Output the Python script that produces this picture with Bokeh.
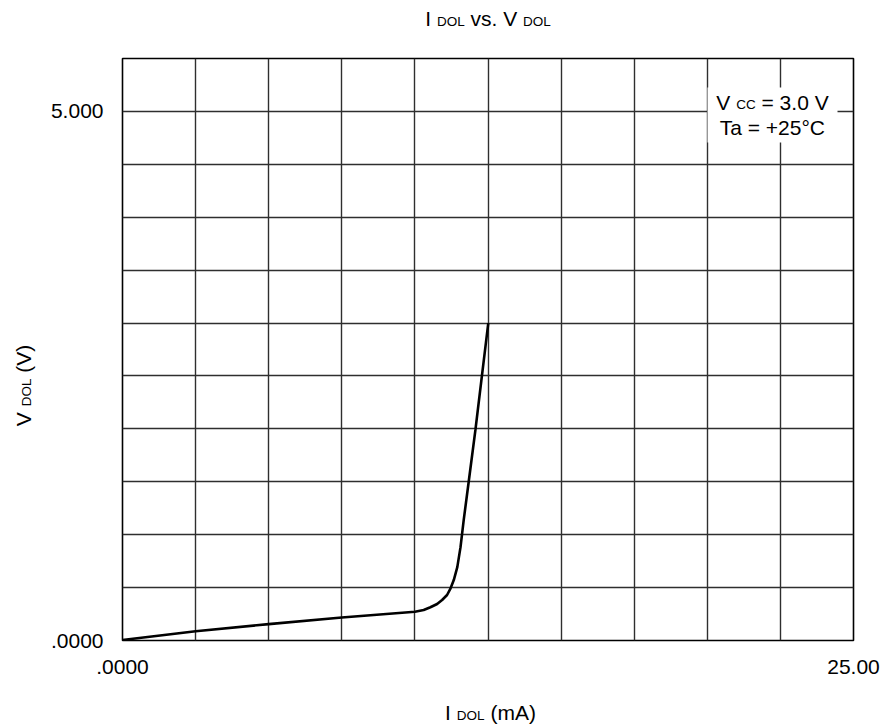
import math
from bokeh.plotting import figure
from bokeh.layouts import column, row
from bokeh.models import FixedTicker, Label, BoxAnnotation, Range1d, ColumnDataSource
from bokeh.core.properties import value
from bokeh.embed import file_html
from bokeh.resources import INLINE

# ---- data ----
i_dol = [0.0, 2.5, 5.0, 7.5, 10.0, 10.3, 10.53, 10.76, 10.93, 11.1, 11.22, 11.33,
         11.45, 11.56, 11.67, 11.84, 12.07, 12.30, 12.51]
v_dol = [0.005, 0.088, 0.155, 0.218, 0.272, 0.288, 0.314, 0.345, 0.383, 0.43, 0.493,
         0.571, 0.693, 0.882, 1.14, 1.50, 1.99, 2.52, 3.0]

x_range = (0.0, 25.0)
y_range = (0.0, 5.5)
x_tick_labels = {0: ".0000", 25: "25.00"}
y_tick_labels = {0: ".0000", 5: "5.000"}
x_grid_step = 2.5
y_grid_step = 0.5

title_parts = [("I", "big"), (" ", "big"), ("DOL", "small"), (" vs. V", "big"), (" ", "big"), ("DOL", "small")]
xlabel_parts = [("I", "big"), (" ", "big"), ("DOL", "small"), (" (mA)", "big")]
ylabel_parts = [("V", "big"), (" ", "big"), ("DOL", "small"), (" (V)", "big")]
cond_line1 = [("V", "big"), (" ", "big"), ("CC", "small"), (" = 3.0 V", "big")]
cond_line2 = [("Ta = +25°C", "big")]

# ---- layout (canvas pixels) ----
W, H = 890, 726
FONT = "Liberation Sans"
SIZES = {"big": 21, "small": 13.5}
CAP = 0.358            # cap-centre height above baseline, in em
TOP_H = 50            # title strip
LEFT_W = 40           # y-title strip (full height)
BOT_H = 36            # x-title strip
MAIN_W = W - LEFT_W
MAIN_H = H - TOP_H - BOT_H
FL, FR, FT, FB = 122, 853, 58, 640   # plot frame in canvas pixels

ARIAL = {' ': 278, 'I': 278, 'V': 667, 'D': 722, 'O': 778, 'L': 556, 'v': 500, 's': 500,
         '.': 278, '(': 333, ')': 333, 'm': 833, 'A': 667, 'C': 722, '=': 584, '3': 556,
         '0': 556, 'T': 611, 'a': 556, '+': 584, '2': 556, '5': 556, '°': 400}


def tw(s, size):
    return sum(ARIAL.get(c, 556) for c in s) * size / 1000.0


def run_layout(parts, center, cap_center):
    """Pieces of a run centred on `center`: (start, width, centre across the run, text, size)."""
    big = SIZES["big"]
    base = cap_center + CAP * big
    total = sum(tw(t, SIZES[k]) for t, k in parts)
    pos = center - total / 2.0
    out = []
    for t, k in parts:
        s = SIZES[k]
        lead = len(t) - len(t.lstrip(' '))
        txt = t.strip(' ')
        if txt:
            start = pos + tw(' ' * lead, s)
            out.append((start, tw(txt, s), base - CAP * s, txt, f"{s}px"))
        pos += tw(t, s)
    return out


def text_strip(w, h, xr):
    f = figure(width=w, height=h, output_backend="svg", toolbar_location=None,
               x_range=Range1d(*xr), y_range=Range1d(h, 0),
               x_axis_location=None, y_axis_location=None, min_border=0)
    f.grid.visible = False
    f.outline_line_color = None
    f.background_fill_color = "white"
    f.border_fill_color = "white"
    return f


# ---- main chart ----
p = figure(width=MAIN_W, height=MAIN_H, output_backend="svg", toolbar_location=None,
           x_range=Range1d(*x_range), y_range=Range1d(*y_range),
           min_border_left=FL - LEFT_W, min_border_right=W - FR,
           min_border_top=FT - TOP_H, min_border_bottom=(TOP_H + MAIN_H) - FB)
p.background_fill_color = "white"
p.border_fill_color = "white"
p.outline_line_color = "black"
p.outline_line_width = 1.6

nx = int(round((x_range[1] - x_range[0]) / x_grid_step))
ny = int(round((y_range[1] - y_range[0]) / y_grid_step))
p.xgrid.ticker = FixedTicker(ticks=[x_range[0] + k * x_grid_step for k in range(1, nx)])
p.ygrid.ticker = FixedTicker(ticks=[y_range[0] + k * y_grid_step for k in range(1, ny)])
for g in (p.xgrid, p.ygrid):
    g.grid_line_color = "#2e2e2e"
    g.grid_line_width = 1.4

p.xaxis.ticker = FixedTicker(ticks=list(x_tick_labels.keys()))
p.yaxis.ticker = FixedTicker(ticks=list(y_tick_labels.keys()))
p.xaxis.major_label_overrides = x_tick_labels
p.yaxis.major_label_overrides = y_tick_labels
for ax in (p.xaxis, p.yaxis):
    ax.axis_line_color = None
    ax.major_tick_line_color = None
    ax.minor_tick_line_color = None
    ax.major_tick_out = 0
    ax.major_tick_in = 0
    ax.minor_tick_out = 0
    ax.major_label_text_font = FONT
    ax.major_label_text_font_size = f"{SIZES['big']}px"
    ax.major_label_text_color = "black"
p.xaxis.major_label_standoff = 19
p.yaxis.major_label_standoff = 19

p.line(i_dol, v_dol, line_color="black", line_width=2.6)


def dx(sx):
    return x_range[0] + (sx - FL) / (FR - FL) * (x_range[1] - x_range[0])


def dy(sy):
    return y_range[0] + (FB - sy) / (FB - FT) * (y_range[1] - y_range[0])


# condition box inside the plot
p.add_layout(BoxAnnotation(left=dx(707), right=dx(837), top=dy(87), bottom=dy(142),
                           fill_color="white", fill_alpha=1.0, line_color=None))
for parts, cx, cc in ((cond_line1, 772, 101.5), (cond_line2, 773, 126.5)):
    for start, wd, yc, t, s in run_layout(parts, cx, cc):
        p.add_layout(Label(x=dx(start), y=dy(yc), text=t, text_font=FONT, text_font_size=s,
                           text_color="black", text_align="left", text_baseline="middle"))


def strip_text(fig, pieces, vertical=False):
    if vertical:
        src = dict(x=[c for _, _, c, _, _ in pieces],
                   y=[st + wd / 2.0 for st, wd, _, _, _ in pieces],
                   text=[t for *_, t, _ in pieces], size=[s for *_, s in pieces])
        fig.text(x="x", y="y", text="text", text_font_size="size",
                 source=ColumnDataSource(src), angle=math.pi / 2,
                 text_font=value(FONT), text_color="black",
                 text_align="center", text_baseline="middle")
    else:
        src = dict(x=[st for st, *_ in pieces], y=[c for _, _, c, _, _ in pieces],
                   text=[t for *_, t, _ in pieces], size=[s for *_, s in pieces])
        fig.text(x="x", y="y", text="text", text_font_size="size",
                 source=ColumnDataSource(src), text_font=value(FONT), text_color="black",
                 text_align="left", text_baseline="middle")


# ---- title / x-title strips: their frames line up with the chart frame, so use canvas x ----
top = text_strip(MAIN_W, TOP_H, (FL, FR))
strip_text(top, run_layout(title_parts, (FL + FR) / 2.0, 18))

bot = text_strip(MAIN_W, BOT_H, (FL, FR))
strip_text(bot, run_layout(xlabel_parts, 490, 712 - (TOP_H + MAIN_H)))

# ---- y-title strip, full height (text reads bottom to top) ----
left = text_strip(LEFT_W, H, (0, LEFT_W))
cy = 385
cap_x = 23.3
vp = run_layout(ylabel_parts, 0.0, 0.0)
vpieces = [(cy - (st + wd), wd, cap_x + CAP * (SIZES["big"] - float(s[:-2])), t, s)
           for st, wd, _, t, s in vp]
strip_text(left, vpieces, vertical=True)

layout = row(left, column(top, p, bot, spacing=0), spacing=0)
open("out.html", "w").write(file_html(layout, INLINE))
